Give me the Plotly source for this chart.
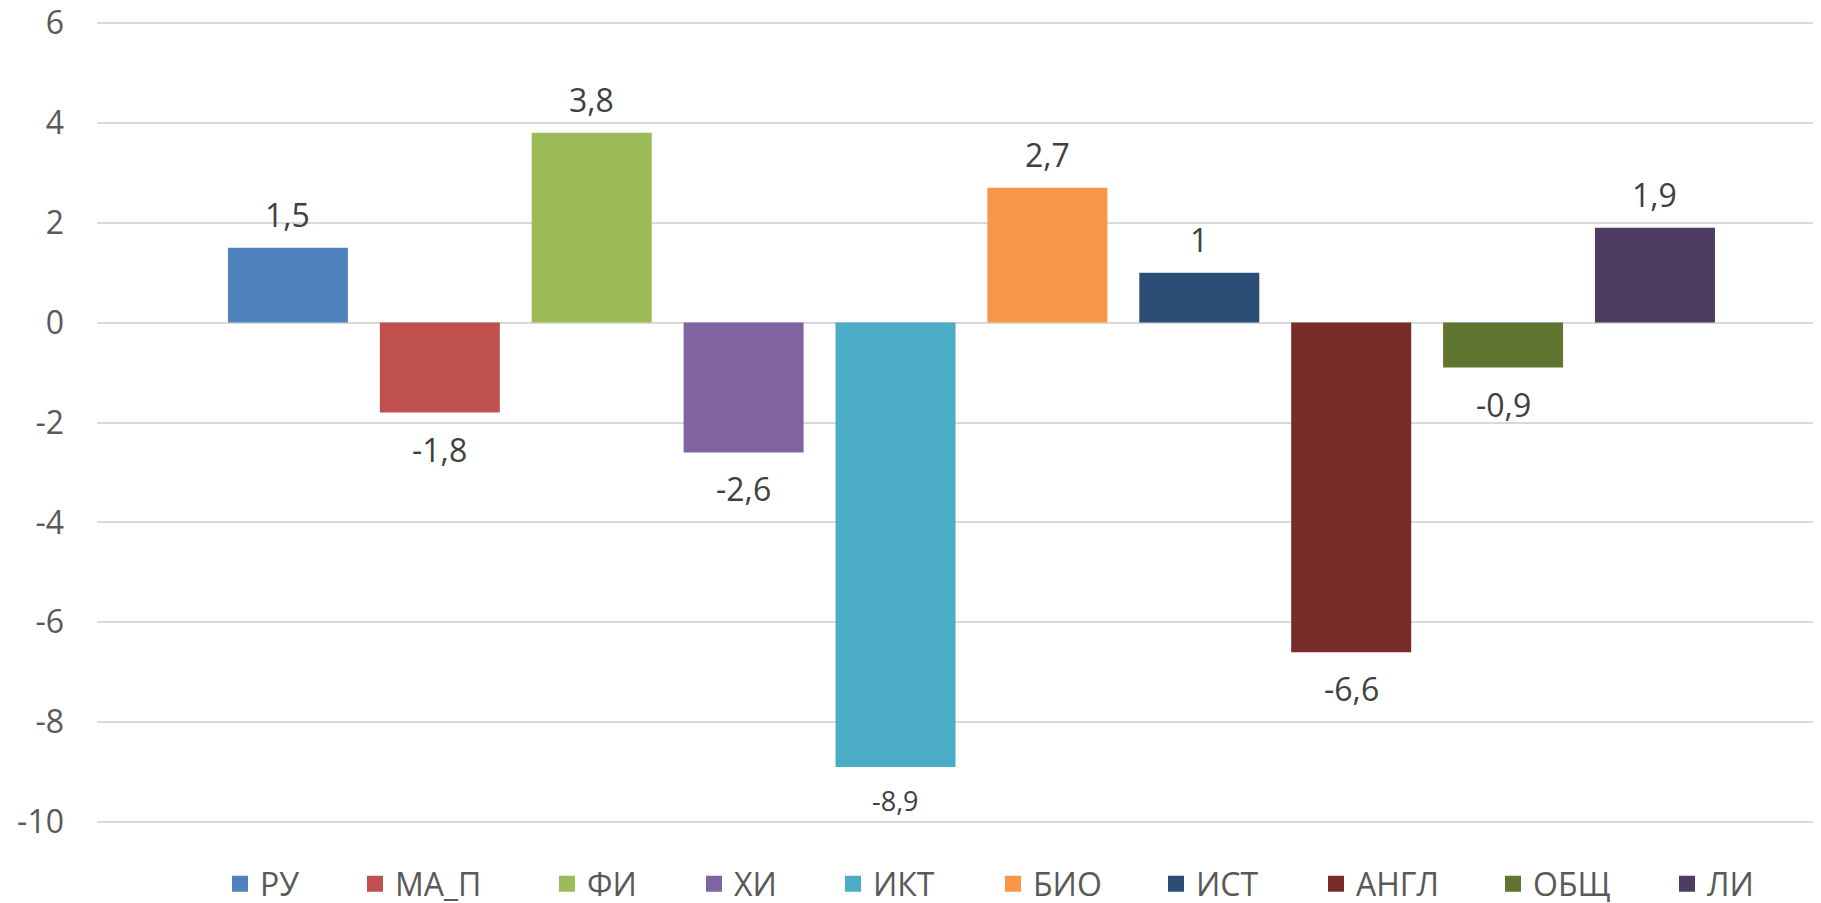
import plotly.graph_objects as go

subjects = ["РУ", "МА_П", "ФИ", "ХИ", "ИКТ", "БИО", "ИСТ", "АНГЛ", "ОБЩ", "ЛИ"]
values = [1.5, -1.8, 3.8, -2.6, -8.9, 2.7, 1.0, -6.6, -0.9, 1.9]
colors = ["#4F81BD", "#C0504D", "#9BBB59", "#8064A2", "#4BACC6",
          "#F79646", "#2C4D75", "#772C2A", "#5F7530", "#4D3B62"]
label_sizes = [32, 32, 32, 32, 27, 32, 32, 32, 32, 32]
y_ticks = [6, 4, 2, 0, -2, -4, -6, -8, -10]
# legend swatch centres (px, screen)
legend_px = [240, 375, 567, 714, 853, 1013, 1176, 1336, 1513, 1687]

FONT = "Open Sans"
OFF = 8  # page body margin offset of the figure on screen
W, H = 1813, 895
ML, MR, MT, MB = 89, 0, 12, 78
PW = W - ML - MR
PH = H - MT - MB

fig = go.Figure()
for i, (name, v, c) in enumerate(zip(subjects, values, colors)):
    lg = "legend" if i == 0 else f"legend{i + 1}"
    fig.add_trace(go.Bar(x=[name], y=[v], name=name, legendgroup=name, showlegend=False,
                         marker=dict(color=c, line=dict(width=0)), hoverinfo="x+y"))
    fig.add_trace(go.Scatter(x=[None], y=[None], name=name, legendgroup=name, legend=lg,
                             mode="markers", showlegend=True, hoverinfo="skip",
                             marker=dict(symbol="square", size=16, color=c, line=dict(width=0))))

annotations = []
for name, v, s in zip(subjects, values, label_sizes):
    txt = f"{v:g}".replace(".", ",")
    if v >= 0:
        annotations.append(dict(x=name, y=v, xref="x", yref="y", text=txt, showarrow=False,
                                yanchor="bottom", yshift=10,
                                font=dict(family=FONT, size=s, color="#404040")))
    else:
        annotations.append(dict(x=name, y=v, xref="x", yref="y", text=txt, showarrow=False,
                                yanchor="top", yshift=-13,
                                font=dict(family=FONT, size=s, color="#404040")))

layout_legends = {}
leg_y = -((884 - OFF) - (H - MB)) / PH
for i, px in enumerate(legend_px):
    key = "legend" if i == 0 else f"legend{i + 1}"
    layout_legends[key] = dict(
        orientation="h", x=((px - OFF) - 20 - ML) / PW, xanchor="left",
        y=leg_y, yanchor="middle",
        font=dict(family=FONT, size=32, color="#595959"),
        itemwidth=30, bgcolor="rgba(0,0,0,0)", borderwidth=0,
        itemclick=False, itemdoubleclick=False,
    )

fig.update_layout(
    width=W, height=H,
    margin=dict(l=ML, r=MR, t=MT, b=MB, autoexpand=False),
    paper_bgcolor="white", plot_bgcolor="white",
    barmode="overlay", bargap=0.21,
    font=dict(family=FONT, color="#595959"),
    annotations=annotations,
    showlegend=True,
    **layout_legends,
)
fig.update_xaxes(type="category", categoryorder="array", categoryarray=subjects,
                 range=[-1.257, 10.093], showticklabels=False, showgrid=False,
                 zeroline=False, showline=False, ticks="", automargin=False)
fig.update_yaxes(range=[-10.06, 6.06], tickvals=y_ticks, ticktext=[str(t) for t in y_ticks],
                 showgrid=True, gridcolor="#D9D9D9", gridwidth=1.5,
                 zeroline=True, zerolinecolor="#D9D9D9", zerolinewidth=1.5,
                 showline=False, ticks="", ticklabelstandoff=32, automargin=False,
                 ticklabeloverflow="allow",
                 tickfont=dict(family=FONT, size=32, color="#595959"))

fig.write_html("out.html")
